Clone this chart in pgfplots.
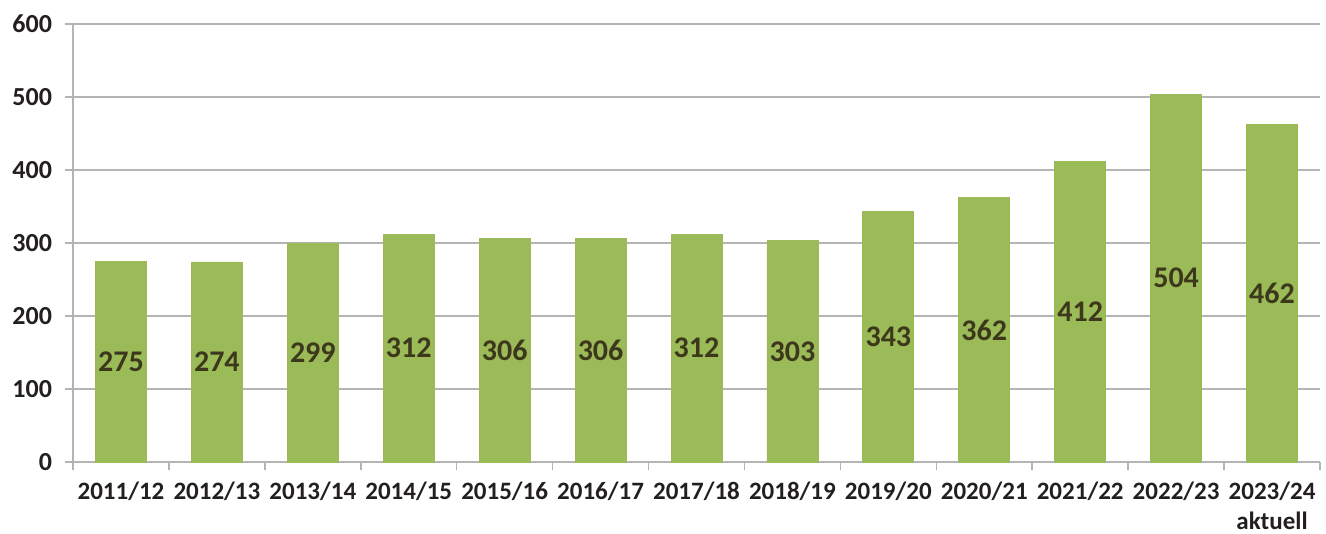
\documentclass[border=0pt]{standalone}
\usepackage{pgfplots}
\pgfplotsset{compat=1.18}
\usepackage{pgfplotstable}
\usepackage{fontspec}
\setmainfont{Carlito}
\definecolor{bargreen}{HTML}{9BBB59}
\definecolor{gridgray}{HTML}{B4B4B4}
\definecolor{labeltxt}{HTML}{3D381C}
\definecolor{ticktxt}{HTML}{231F20}
\pgfplotstableread{
x v
0 275
1 274
2 299
3 312
4 306
5 306
6 312
7 303
8 343
9 362
10 412
11 504
12 462
}\data
\begin{document}
\begin{tikzpicture}
\path[use as bounding box] (0,0) rectangle (663bp,267bp);
\begin{axis}[
  at={(36.5bp,36bp)}, anchor=south west,
  scale only axis, width=623.5bp, height=219bp,
  xmin=-0.5, xmax=12.5, ymin=0, ymax=600,
  axis lines*=left,
  axis line style={draw=gridgray, line width=0.8pt},
  ytick={0,100,...,600},
  ymajorgrids, grid style={gridgray, line width=0.8pt},
  tick style={draw=gridgray, line width=0.8pt},
  tick align=outside,
  major tick length=4bp,
  xtick={-0.5,0.5,...,12.5},
  xticklabel={\mbox{}},
  extra x ticks={0,...,12},
  extra x tick labels={2011/12,2012/13,2013/14,2014/15,2015/16,2016/17,2017/18,2018/19,2019/20,2020/21,2021/22,2022/23,{2023/24\\aktuell}},
  extra x tick style={major tick length=0pt,
    tick label style={font=\fontsize{12.5bp}{15bp}\selectfont\bfseries, text=ticktxt, align=center, anchor=north, yshift=-6.5bp}},
  y tick label style={font=\fontsize{13bp}{15bp}\selectfont\bfseries, text=ticktxt, xshift=-3bp},
  /pgf/number format/assume math mode=true,
  clip=false,
]
\addplot[ybar, bar width=25.5bp, fill=bargreen, draw=bargreen] table[x=x, y=v] {\data};
\addplot[draw=none, mark=none, nodes near coords, point meta=explicit,
  every node near coord/.append style={anchor=center, font=\fontsize{15bp}{18bp}\selectfont\bfseries, text=labeltxt}]
  table[x=x, y expr=\thisrow{v}/2, meta=v] {\data};
\end{axis}
\end{tikzpicture}
\end{document}
